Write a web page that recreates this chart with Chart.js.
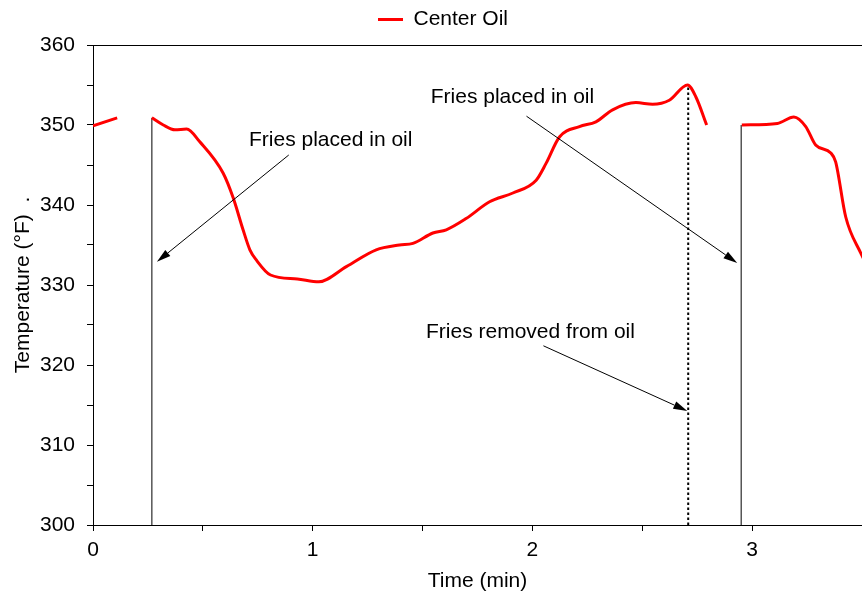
<!DOCTYPE html>
<html>
<head>
<meta charset="utf-8">
<script src="https://cdn.jsdelivr.net/npm/chart.js@4.4.1/dist/chart.umd.min.js"></script>
<style>
  html, body { margin: 0; padding: 0; background: #ffffff; }
  #wrap { width: 862px; height: 595px; }
</style>
</head>
<body>
<div id="wrap"><canvas id="c" width="862" height="595"></canvas></div>
<script>
// ---- Data ----
const seriesName = 'Center Oil';
const timeMin = [0, 0.11, 0.19,
  0.268, 0.32, 0.373, 0.426, 0.486, 0.592, 0.638, 0.683, 0.714, 0.744, 0.808, 0.93, 1.028, 1.153, 1.289, 1.395, 1.456, 1.547, 1.608, 1.698, 1.805, 1.911, 2.017, 2.062, 2.123, 2.214, 2.289, 2.365, 2.471, 2.547, 2.623, 2.706, 2.744, 2.793,
  2.87,
  2.953, 3.115, 3.19, 3.244, 3.289, 3.358, 3.38, 3.426, 3.494, 3.52];
const tempF = [349.9, 350.9, null,
  350.9, 350.0, 349.4, 349.5, 347.9, 344.0, 340.9, 336.9, 334.4, 333.1, 331.25, 330.75, 330.4, 332.3, 334.4, 335.0, 335.2, 336.5, 336.9, 338.3, 340.4, 341.5, 343.1, 345.2, 348.5, 349.8, 350.4, 351.9, 352.8, 352.6, 353.1, 355.0, 353.5, 350.0,
  null,
  350.0, 350.2, 351.0, 349.8, 347.5, 346.5, 345.4, 338.5, 334.0, 332.6];

// event markers (vertical lines): time, top temperature
const markerTimes = [0.268, 2.709, 2.95];
const markerTops  = [350.9, 355.0, 350.0];
const markerDotted = [false, true, false];

// annotations: text, text centre (time, temp), arrow start and end (time, temp)
const noteTexts = ['Fries placed in oil', 'Fries placed in oil', 'Fries removed from oil'];
const noteTextX = [1.082, 1.909, 1.991];
const noteTextY = [348.1, 353.5, 324.1];
const arrowFromX = [0.891, 1.973, 2.05];
const arrowFromY = [346.25, 351.1, 322.4];
const arrowToX = [0.291, 2.932, 2.705];
const arrowToY = [332.9, 332.75, 314.25];

const yMin = 300, yMax = 360, xMin = 0, xMax = 3.5;

const FONT = "'Liberation Sans', Arial, Helvetica, sans-serif";
const FS = 21;

const mainData = timeMin.map((t, i) => ({ x: t, y: tempF[i] }));
const datasets = [{
  label: seriesName,
  data: mainData,
  borderColor: '#ff0000',
  backgroundColor: '#ff0000',
  borderWidth: 3,
  pointRadius: 0,
  fill: false,
  spanGaps: false,
  cubicInterpolationMode: 'monotone',
  order: 0
}];
markerTimes.forEach((t, i) => {
  datasets.push({
    label: '',
    data: [{ x: t, y: yMin }, { x: t, y: markerTops[i] }],
    borderColor: '#000000',
    borderWidth: markerDotted[i] ? 2 : 1,
    borderDash: markerDotted[i] ? [2.5, 2.5] : [],
    pointRadius: 0,
    fill: false,
    tension: 0,
    order: 1
  });
});

const annotationPlugin = {
  id: 'notes',
  afterDatasetsDraw(chart) {
    const { ctx, scales: { x, y } } = chart;
    ctx.save();
    ctx.strokeStyle = '#000';
    ctx.fillStyle = '#000';
    ctx.lineWidth = 1;
    for (let i = 0; i < noteTexts.length; i++) {
      const x1 = x.getPixelForValue(arrowFromX[i]), y1 = y.getPixelForValue(arrowFromY[i]);
      const x2 = x.getPixelForValue(arrowToX[i]), y2 = y.getPixelForValue(arrowToY[i]);
      const ang = Math.atan2(y2 - y1, x2 - x1);
      const len = 14, half = 4;
      const bx = x2 - len * Math.cos(ang), by = y2 - len * Math.sin(ang);
      ctx.beginPath();
      ctx.moveTo(x1, y1);
      ctx.lineTo(bx, by);
      ctx.stroke();
      ctx.beginPath();
      ctx.moveTo(x2, y2);
      ctx.lineTo(bx + half * Math.sin(ang), by - half * Math.cos(ang));
      ctx.lineTo(bx - half * Math.sin(ang), by + half * Math.cos(ang));
      ctx.closePath();
      ctx.fill();
      ctx.font = FS + 'px ' + FONT;
      ctx.textAlign = 'center';
      ctx.textBaseline = 'middle';
      ctx.fillText(noteTexts[i], x.getPixelForValue(noteTextX[i]), y.getPixelForValue(noteTextY[i]));
    }
    ctx.restore();
  }
};

const legendShift = {
  id: 'legendShift',
  afterLayout(chart) {
    if (chart.legend) { chart.legend.left += 12; chart.legend.right += 12; }
  }
};

const noSidePadding = (s) => { s.paddingLeft = 0; s.paddingRight = 0; };

new Chart(document.getElementById('c'), {
  type: 'line',
  data: { datasets },
  plugins: [annotationPlugin, legendShift],
  options: {
    responsive: false,
    animation: false,
    layout: { autoPadding: false, padding: { top: 1, right: 0, bottom: 0, left: 0 } },
    plugins: {
      tooltip: { enabled: false },
      legend: {
        display: true,
        position: 'top',
        labels: {
          color: '#000',
          font: { family: FONT, size: FS },
          usePointStyle: true,
          pointStyle: 'line',
          pointStyleWidth: 25,
          boxWidth: 25,
          boxHeight: FS,
          padding: 8,
          filter: (item) => item.text === seriesName
        }
      }
    },
    scales: {
      x: {
        type: 'linear',
        position: 'bottom',
        min: xMin, max: xMax,
        afterFit: (s) => { s.height = 70; noSidePadding(s); },
        ticks: {
          stepSize: 0.5,
          color: '#000',
          font: { family: FONT, size: FS },
          padding: 7,
          maxRotation: 0,
          autoSkip: false,
          callback: (v) => Number.isInteger(v) ? String(v) : ''
        },
        grid: { display: true, drawOnChartArea: false, drawTicks: true, tickLength: 6, color: '#000', lineWidth: 1 },
        border: { display: true, color: '#000', width: 1 },
        title: { display: true, text: 'Time (min)', color: '#000', font: { family: FONT, size: FS }, padding: { top: 4, bottom: 1 } }
      },
      xTop: {
        type: 'linear',
        position: 'top',
        min: xMin, max: xMax,
        afterFit: (s) => { s.height = 5; noSidePadding(s); },
        ticks: { display: false },
        grid: { display: false, drawTicks: false },
        border: { display: true, color: '#000', width: 1 }
      },
      y: {
        type: 'linear',
        min: yMin, max: yMax,
        afterFit: (s) => { s.width = 93; },
        ticks: {
          stepSize: 5,
          color: '#000',
          font: { family: FONT, size: FS },
          padding: 12,
          autoSkip: false,
          callback: (v) => (v % 10 === 0) ? String(v) : ''
        },
        grid: { display: true, drawOnChartArea: false, drawTicks: true, tickLength: 6, color: '#000', lineWidth: 1 },
        border: { display: true, color: '#000', width: 1 },
        title: { display: true, text: 'Temperature (°F)  .', color: '#000', font: { family: FONT, size: FS }, padding: { top: 11, bottom: 4 } }
      }
    }
  }
});
</script>
</body>
</html>
